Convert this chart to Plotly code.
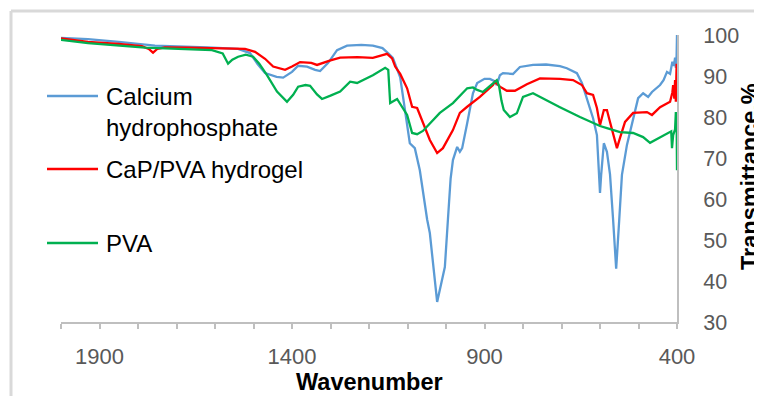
import plotly.graph_objects as go

# ---- data ----
series_names = ["Calcium<br>hydrophosphate", "CaP/PVA hydrogel", "PVA"]
series_colors = ["#5B9BD5", "#FF0000", "#00B050"]

wn_blue = [2000, 1930, 1850, 1756, 1620, 1540, 1509, 1490, 1470, 1440, 1423, 1400, 1384, 1361, 1340, 1327,
           1306, 1283, 1257, 1220, 1190, 1165, 1150, 1138, 1119, 1106, 1094, 1081, 1068, 1049, 1042, 1023,
           1015, 1003, 995, 988, 982, 971, 964, 958, 945, 930, 919, 900, 886, 875, 868, 860, 852, 826, 808,
           774, 740, 704, 686, 660, 647, 631, 618, 608, 603, 600, 597, 590, 582, 574, 566, 558, 550, 543,
           530, 514, 501, 488, 475, 465, 444, 435, 426, 418, 412, 408, 405, 403, 401, 400]
t_blue = [99.3, 99.0, 98.3, 97.4, 97.0, 96.6, 95.6, 93.0, 90.7, 89.8, 89.6, 91.0, 92.5, 92.3, 91.5, 91.2,
          93.2, 96.3, 97.4, 97.6, 97.4, 96.8, 95.5, 94.4, 89.7, 81.7, 73.6, 72.4, 67.0, 55.0, 51.7, 34.9,
          38.0, 43.4, 55.0, 65.0, 69.5, 72.7, 71.5, 72.4, 78.5, 85.8, 88.3, 89.3, 89.3, 88.8, 87.8, 90.2, 90.7, 90.5, 92.2,
          92.7, 92.8, 92.4, 91.9, 90.7, 88.3, 83.7, 79.7, 75.6, 68.3, 61.5, 65.9, 73.6, 71.5, 66.0, 55.0, 43.0, 55.0, 65.9,
          73.2, 79.7, 84.6, 85.8, 84.9, 86.1, 87.8, 89.0, 91.0, 90.5, 93.5, 92.5, 94.5, 92.0, 95.0, 100.0]

wn_red = [2000, 1930, 1850, 1790, 1772, 1761, 1750, 1730, 1670, 1600, 1535, 1522, 1496, 1470, 1449, 1418,
          1400, 1379, 1350, 1335, 1300, 1275, 1230, 1190, 1153, 1140, 1132, 1119, 1101, 1088, 1075, 1060,
          1042, 1023, 1008, 982, 964, 945, 912, 878, 873, 860, 842, 821, 790, 756, 704, 670, 647, 634, 618,
          608, 600, 590, 582, 574, 564, 556, 548, 535, 514, 478, 465, 444, 418, 412, 410, 407, 405, 403, 401, 400]
t_red = [99.2, 98.3, 97.8, 97.3, 96.6, 95.7, 96.6, 97.0, 96.9, 96.8, 96.8, 96.6, 95.9, 94.2, 92.3, 91.5,
         92.3, 93.4, 93.2, 92.7, 93.8, 94.5, 94.6, 94.4, 95.4, 94.3, 92.3, 90.5, 87.0, 82.5, 82.2, 78.5,
         74.4, 71.2, 72.4, 76.8, 81.0, 82.5, 84.9, 87.8, 88.6, 87.4, 86.4, 86.4, 88.0, 89.4, 89.3, 89.0, 87.8, 85.8, 85.4,
         82.2, 78.0, 81.7, 81.7, 78.8, 74.9, 72.4, 74.9, 78.8, 81.0, 81.2, 80.5, 82.4, 83.7, 86.0, 87.8, 84.5, 89.0, 83.7, 93.0, 84.0]

wn_green = [2000, 1930, 1782, 1700, 1608, 1580, 1566, 1555, 1540, 1520, 1501, 1485, 1465, 1439, 1413, 1397,
            1384, 1365, 1353, 1335, 1322, 1300, 1275, 1249, 1231, 1190, 1158, 1150, 1145, 1127, 1115, 1101,
            1088, 1075, 1060, 1034, 1016, 982, 960, 945, 930, 919, 904, 886, 878, 868, 862, 856, 850, 834,
            816, 800, 774, 756, 704, 652, 618, 600, 582, 548, 514, 488, 470, 444, 423, 415, 413, 410, 405,
            403, 401, 400]
t_green = [98.8, 98.0, 96.9, 96.6, 96.3, 95.5, 93.0, 94.0, 94.7, 95.2, 94.7, 93.0, 90.2, 86.2, 83.7, 85.4,
           87.4, 87.8, 87.6, 85.5, 84.4, 85.2, 86.2, 88.6, 88.3, 90.2, 92.0, 91.5, 83.4, 84.4, 82.5, 80.5,
           76.1, 75.8, 76.6, 79.3, 81.0, 83.4, 85.5, 87.0, 87.2, 86.6, 86.1, 87.5, 88.3, 89.0, 87.5, 84.0, 81.7, 80.0,
           80.9, 84.9, 85.8, 84.9, 82.4, 80.0, 78.5, 77.8, 77.3, 76.3, 76.1, 75.1, 73.7, 75.1, 76.1, 76.5, 72.4, 75.6, 77.0,
           81.2, 80.0, 67.0]

x_tick_values = [1900, 1400, 900, 400]
x_tick_labels = ["1900", "1400", "900", "400"]
y_tick_values = [30, 40, 50, 60, 70, 80, 90, 100]

x_title = "Wavenumber"
y_title = "Transmittance,%"

FONT = "Liberation Sans, Arial, sans-serif"

fig = go.Figure()
for name, color, xs, ys in zip(series_names, series_colors,
                               [wn_blue, wn_red, wn_green], [t_blue, t_red, t_green]):
    fig.add_trace(go.Scatter(x=xs, y=ys, mode="lines", name=name.replace("<br>", " "),
                             line=dict(color=color, width=2.3), showlegend=False))

# page offset of the plot div (browser body margin)
OFF = 8
# plot area in page pixels: x 61..677, y 35..322
L, R, T, B = 61 - OFF, 677 - OFF, 35 - OFF, 322 - OFF
W, H = 762 - OFF, 396 - OFF


def px(x):
    return (x - OFF - L) / (R - L)


def py(y):
    return (B - (y - OFF)) / (B - T)


shapes = [
    # chart border (top and left)
    dict(type="line", xref="paper", yref="paper", x0=px(11), x1=px(780), y0=py(11), y1=py(11),
         line=dict(color="#D9D9D9", width=3)),
    dict(type="line", xref="paper", yref="paper", x0=px(11), x1=px(11), y0=py(11), y1=py(420),
         line=dict(color="#D9D9D9", width=3)),
]

annotations = []
legend_rows = [(96, 112), (169, 169), (243, 243)]  # (line y, text center y) in page pixels
for (ly, ty), name, color in zip(legend_rows, series_names, series_colors):
    shapes.append(dict(type="line", xref="paper", yref="paper", x0=px(47), x1=px(98), y0=py(ly), y1=py(ly),
                       line=dict(color=color, width=2.5)))
    annotations.append(dict(xref="paper", yref="paper", x=px(104), y=py(ty), xanchor="left", yanchor="middle",
                            text=name, showarrow=False, align="left",
                            font=dict(family=FONT, size=24, color="#000000")))

annotations.append(dict(xref="paper", yref="paper", x=px(369), y=py(382), xanchor="center", yanchor="middle",
                        text="<b>" + x_title + "</b>", showarrow=False,
                        font=dict(family=FONT, size=23.5, color="#000000")))
annotations.append(dict(xref="paper", yref="paper", x=px(750), y=py(177), xanchor="center", yanchor="middle",
                        text="<b>" + y_title + "</b>", showarrow=False, textangle=-90,
                        font=dict(family=FONT, size=23.5, color="#000000")))

fig.update_layout(
    width=W, height=H,
    margin=dict(l=L, r=W - R, t=T, b=H - B, pad=0),
    paper_bgcolor="white", plot_bgcolor="white",
    showlegend=False,
    shapes=shapes, annotations=annotations,
    font=dict(family=FONT, size=21.5, color="#595959"),
)
fig.update_xaxes(
    range=[2000, 400], showgrid=False, zeroline=False,
    showline=True, linecolor="#BFBFBF", linewidth=2,
    tickmode="array", tickvals=x_tick_values, ticktext=x_tick_labels,
    ticks="outside", ticklen=5, tickwidth=2, tickcolor="#BFBFBF",
    minor=dict(dtick=100, tick0=400, ticks="outside", ticklen=5, tickwidth=2, tickcolor="#BFBFBF", showgrid=False),
    tickfont=dict(family=FONT, size=22, color="#595959"),
    ticklabelstandoff=9,
)
fig.update_yaxes(
    range=[30, 100], side="right", showgrid=False, zeroline=False,
    showline=True, linecolor="#BFBFBF", linewidth=2,
    tickmode="array", tickvals=y_tick_values,
    ticks="", tickfont=dict(family=FONT, size=21.5, color="#595959"),
    ticklabelstandoff=20,
)

fig.write_html("out.html")
